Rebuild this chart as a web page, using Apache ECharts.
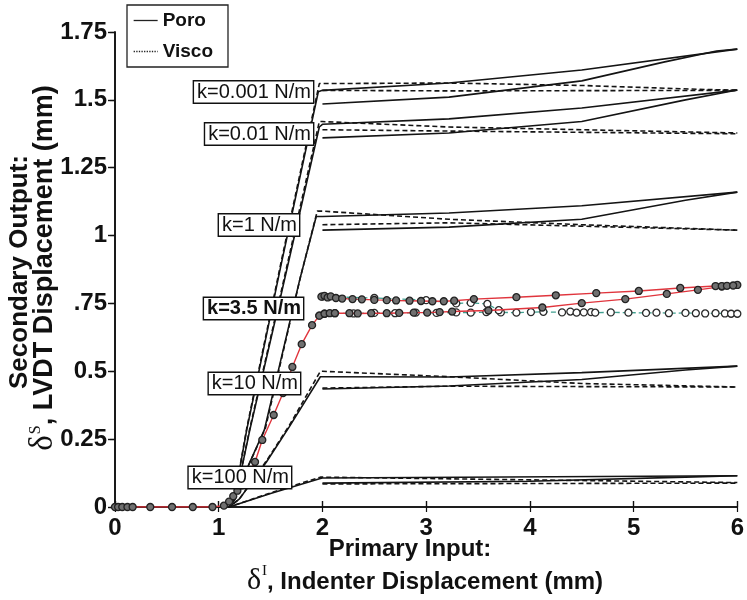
<!DOCTYPE html>
<html>
<head>
<meta charset="utf-8">
<script src="https://cdn.jsdelivr.net/npm/echarts@6/dist/echarts.min.js"></script>
<style>html,body{margin:0;padding:0;background:#fff}#c{width:747px;height:600px}</style>
</head>
<body>
<div id="c"></div>
<script>
// ---------- axis ticks ----------
const xTicks = [0, 1, 2, 3, 4, 5, 6];
const yTickLabels = ['0', '0.25', '0.5', '.75', '1', '1.25', '1.5', '1.75'];

// ---------- model curves [x (mm), y (mm)] ----------
// k = 0.001 N/m
const k0001PoroUp = [[0,0],[1.1,0],[1.15,0.03],[1.27,0.284],[1.6,0.89],[1.96,1.53],[2,1.535],[3.22,1.562],[4.5,1.61],[6,1.687]];
const k0001PoroLo = [[2,1.485],[3.22,1.51],[4.5,1.57],[5.3,1.64],[5.8,1.68],[6,1.687]];
const k0001ViscoUp = [[0,0],[1.1,0],[1.15,0.03],[1.27,0.29],[1.6,0.9],[1.97,1.56],[2,1.56],[3.22,1.562],[4.5,1.553],[5.7,1.538],[6,1.536]];
const k0001ViscoLo = [[2,1.535],[3.22,1.533],[6,1.535]];
// k = 0.01 N/m
const k001PoroUp = [[0,0],[1.1,0],[1.16,0.03],[1.3,0.284],[1.6,0.78],[1.97,1.40],[2,1.41],[3.22,1.43],[4.5,1.47],[6,1.536]];
const k001PoroLo = [[2,1.36],[3.22,1.378],[4.5,1.42],[5.5,1.5],[6,1.536]];
const k001ViscoUp = [[0,0],[1.1,0],[1.16,0.03],[1.3,0.29],[1.6,0.79],[1.97,1.42],[2,1.42],[3.22,1.40],[4.5,1.39],[6,1.378]];
const k001ViscoLo = [[2,1.39],[3.22,1.385],[6,1.375]];
// k = 1 N/m
const k1PoroUp = [[0,0],[1.1,0],[1.2,0.08],[1.44,0.284],[1.78,0.836],[1.94,1.07],[2,1.07],[3.22,1.083],[4.5,1.11],[6,1.16]];
const k1PoroLo = [[2,1.02],[3.22,1.031],[4.5,1.06],[5.5,1.13],[6,1.16]];
const k1ViscoUp = [[0,0],[1.1,0],[1.2,0.08],[1.45,0.29],[1.79,0.85],[1.95,1.09],[2,1.09],[3.22,1.06],[4.5,1.04],[6,1.02]];
const k1ViscoLo = [[2,1.04],[3.22,1.047],[6,1.02]];
// k = 10 N/m
const k10PoroUp = [[0,0],[1.1,0],[1.2,0.03],[1.46,0.166],[1.68,0.295],[1.98,0.48],[2,0.48],[3.22,0.479],[4.5,0.495],[6,0.519]];
const k10PoroLo = [[2,0.435],[3.22,0.446],[4.5,0.47],[5.5,0.505],[6,0.519]];
const k10ViscoUp = [[0,0],[1.1,0],[1.2,0.03],[1.46,0.17],[1.68,0.30],[1.98,0.50],[2,0.50],[3.22,0.48],[4.5,0.455],[6,0.442]];
const k10ViscoLo = [[2,0.438],[3.22,0.445],[6,0.442]];
// k = 100 N/m
const k100PoroUp = [[0,0],[1.1,0],[1.5,0.05],[1.98,0.105],[2,0.107],[6,0.115]];
const k100PoroLo = [[2,0.088],[4,0.095],[5.5,0.11],[6,0.115]];
const k100ViscoUp = [[0,0],[1.1,0],[1.5,0.052],[1.98,0.11],[2,0.11],[4,0.1],[6,0.09]];
const k100ViscoLo = [[2,0.085],[6,0.088]];

// ---------- k = 3.5 N/m experimental data ----------
const expRedLoad = [[0,0],[0.03,0],[0.07,0],[0.12,0],[0.17,0],[0.34,0],[0.55,0],[0.75,0],[0.94,0],[1.05,0.005],[1.1,0.02],[1.14,0.04],[1.18,0.06],[1.22,0.08],[1.35,0.166],[1.42,0.247],[1.53,0.339],[1.62,0.42],[1.71,0.516],[1.8,0.6],[1.9,0.67],[1.97,0.705],[2.02,0.712],[2.07,0.714],[2.12,0.714],[2.26,0.714],[2.34,0.713],[2.47,0.714],[2.62,0.714],[2.74,0.715],[2.88,0.716],[3.01,0.716],[3.13,0.718],[3.25,0.72],[3.6,0.724],[4.12,0.735],[4.5,0.751],[4.92,0.766],[5.32,0.785],[5.62,0.8],[5.85,0.812],[6,0.818]];
const expRedHold = [[1.99,0.775],[2.02,0.778],[2.05,0.772],[2.08,0.776],[2.13,0.77],[2.19,0.768],[2.29,0.766],[2.38,0.765],[2.5,0.763],[2.62,0.762],[2.71,0.761],[2.84,0.76],[2.95,0.759],[3.06,0.758],[3.17,0.758],[3.27,0.76],[3.46,0.766],[3.87,0.773],[4.25,0.78],[4.64,0.788],[5.05,0.796],[5.45,0.807],[5.79,0.814],[5.85,0.814],[5.9,0.815],[5.96,0.816]];
const expTealLo = [[1.97,0.705],[2.02,0.712],[2.12,0.714],[2.3,0.713],[2.5,0.715],[2.7,0.714],[2.9,0.716],[3.1,0.715],[3.29,0.717],[3.43,0.716],[3.58,0.718],[3.72,0.717],[3.87,0.716],[4.01,0.718],[4.13,0.719],[4.31,0.717],[4.39,0.72],[4.45,0.716],[4.52,0.717],[4.59,0.718],[4.63,0.716],[4.78,0.717],[4.95,0.716],[5.12,0.715],[5.22,0.716],[5.34,0.714],[5.5,0.715],[5.6,0.714],[5.69,0.713],[5.79,0.714],[5.88,0.713],[5.94,0.712],[6,0.712]];
const expTealUp = [[2,0.775],[2.5,0.77],[3.0,0.762],[3.29,0.75],[3.43,0.752],[3.59,0.748],[3.7,0.725]];

// ---------- annotation labels ----------
const kLabels = ['k=0.001 N/m', 'k=0.01 N/m', 'k=1 N/m', 'k=3.5 N/m', 'k=10 N/m', 'k=100 N/m'];

const FONT = "'Liberation Sans', Arial, Helvetica, sans-serif";
const chart = echarts.init(document.getElementById('c'), null, {renderer: 'canvas'});

function poro(data) {
  return {type: 'line', name: 'Poro', data: data, symbol: 'none', showSymbol: false, color: '#141414',
    lineStyle: {color: '#141414', width: 1.6, type: 'solid'}, z: 3, animation: false};
}
function visco(data) {
  return {type: 'line', name: 'Visco', data: data, symbol: 'none', showSymbol: false, color: '#141414',
    lineStyle: {color: '#141414', width: 1.6, type: [5, 3]}, z: 3, animation: false};
}

const series = [
  poro(k0001PoroUp), poro(k0001PoroLo), visco(k0001ViscoUp), visco(k0001ViscoLo),
  poro(k001PoroUp), poro(k001PoroLo), visco(k001ViscoUp), visco(k001ViscoLo),
  poro(k1PoroUp), poro(k1PoroLo), visco(k1ViscoUp), visco(k1ViscoLo),
  poro(k10PoroUp), poro(k10PoroLo), visco(k10ViscoUp), visco(k10ViscoLo),
  poro(k100PoroUp), poro(k100PoroLo), visco(k100ViscoUp), visco(k100ViscoLo),
  {type: 'line', name: 'exp teal lo', data: expTealLo, symbol: 'circle', symbolSize: 7, color: '#3f9f8f',
    lineStyle: {color: '#3f9f8f', width: 1.3, type: [5, 3]},
    itemStyle: {color: '#ffffff', borderColor: '#2a2a2a', borderWidth: 1.3}, z: 4, animation: false},
  {type: 'line', name: 'exp teal up', data: expTealUp, symbol: 'circle', symbolSize: 7, color: '#3f9f8f',
    lineStyle: {color: '#3f9f8f', width: 1.3, type: [5, 3]},
    itemStyle: {color: '#ffffff', borderColor: '#2a2a2a', borderWidth: 1.3}, z: 4, animation: false},
  {type: 'line', name: 'exp red load', data: expRedLoad, symbol: 'circle', symbolSize: 7, color: '#e0353d',
    lineStyle: {color: '#e0353d', width: 1.4},
    itemStyle: {color: '#707070', borderColor: '#222222', borderWidth: 1.3}, z: 5, animation: false},
  {type: 'line', name: 'exp red hold', data: expRedHold, symbol: 'circle', symbolSize: 7, color: '#e0353d',
    lineStyle: {color: '#e0353d', width: 1.4},
    itemStyle: {color: '#707070', borderColor: '#222222', borderWidth: 1.3}, z: 5, animation: false}
];

const axisLine = {show: true, lineStyle: {color: '#111', width: 1.6}};

const labelPos = [
  {x: 313, y: 92, bold: false},
  {x: 313, y: 134, bold: false},
  {x: 299, y: 225, bold: false},
  {x: 303, y: 308.5, bold: true},
  {x: 300, y: 383.5, bold: false},
  {x: 291, y: 477.5, bold: false}
];
const graphics = kLabels.map((t, i) => ({
  type: 'text', x: labelPos[i].x, y: labelPos[i].y, z: 50,
  style: {text: t, font: (labelPos[i].bold ? 'bold ' : '') + '20px ' + FONT, fill: '#111',
    align: 'right', verticalAlign: 'middle', backgroundColor: '#fff',
    borderColor: '#111', borderWidth: 1.4, padding: [1, 2, 0, 3]}
}));
graphics.push({
  type: 'text', x: 410, y: 549, z: 50,
  style: {text: 'Primary Input:', font: 'bold 24px ' + FONT, fill: '#111', align: 'center', verticalAlign: 'middle'}
});
graphics.push({
  type: 'text', x: 425, y: 580, z: 50,
  style: {
    text: '{d|δ}{s|I}{t|, Indenter Displacement (mm)}', align: 'center', verticalAlign: 'middle',
    rich: {
      d: {font: '30px "Liberation Serif", "DejaVu Serif", serif', fill: '#111', lineHeight: 32, verticalAlign: 'bottom'},
      s: {font: '15px "Liberation Serif", serif', fill: '#111', lineHeight: 32, verticalAlign: 'top', padding: [0, 0, 14, 1]},
      t: {font: 'bold 24px ' + FONT, fill: '#111', lineHeight: 32, verticalAlign: 'bottom', padding: [0, 0, 2, 0]}
    }
  }
});
graphics.push({
  type: 'text', x: 20, y: 272, rotation: Math.PI / 2, z: 50,
  style: {text: 'Secondary Output:', font: 'bold 26px ' + FONT, fill: '#111', align: 'center', verticalAlign: 'middle'}
});
graphics.push({
  type: 'text', x: 44, y: 268, rotation: Math.PI / 2, z: 50,
  style: {
    text: '{d|δ}{s|S}{t|, LVDT Displacement (mm)}', align: 'center', verticalAlign: 'middle',
    rich: {
      d: {font: '33px "Liberation Serif", "DejaVu Serif", serif', fill: '#111', lineHeight: 32, verticalAlign: 'bottom'},
      s: {font: '16px "Liberation Serif", serif', fill: '#111', lineHeight: 32, verticalAlign: 'top', padding: [0, 0, 14, 1]},
      t: {font: 'bold 27px ' + FONT, fill: '#111', lineHeight: 32, verticalAlign: 'bottom', padding: [0, 0, 2, 0]}
    }
  }
});

chart.setOption({
  animation: false,
  backgroundColor: '#ffffff',
  grid: {left: 115, right: 8, top: 32, bottom: 93, containLabel: false},
  legend: {
    show: true, orient: 'vertical', left: 127, top: 5, z: 60,
    data: [{name: 'Poro'}, {name: 'Visco', lineStyle: {type: 'dotted'}}],
    backgroundColor: '#fff', borderColor: '#222', borderWidth: 1.3,
    padding: [6, 15, 6, 6], itemGap: 12, itemWidth: 24, itemHeight: 14,
    itemStyle: {color: 'transparent', borderColor: 'transparent', borderWidth: 0, opacity: 0},
    lineStyle: {width: 1.3, color: '#222'},
    selectedMode: false,
    textStyle: {fontFamily: FONT, fontWeight: 'bold', fontSize: 19, color: '#111', lineHeight: 19}
  },
  xAxis: [
    {type: 'value', position: 'bottom', min: 0, max: 6, interval: 1,
      axisLine: axisLine, splitLine: {show: false},
      axisTick: {show: true, inside: true, length: 6, lineStyle: {color: '#111', width: 1.4}},
      axisLabel: {show: true, margin: 9, fontFamily: FONT, fontWeight: 'bold', fontSize: 24, color: '#111',
        formatter: v => (xTicks.indexOf(v) >= 0 ? String(v) : '')}},
    {type: 'value', position: 'top', min: 0, max: 6, interval: 1,
      axisLine: axisLine, splitLine: {show: false},
      axisTick: {show: true, inside: true, length: 5, lineStyle: {color: '#111', width: 1.2}},
      axisLabel: {show: false}}
  ],
  yAxis: [
    {type: 'value', position: 'left', min: 0, max: 1.75, interval: 0.25,
      axisLine: axisLine, splitLine: {show: false},
      axisTick: {show: true, inside: false, length: 7, lineStyle: {color: '#111', width: 1.4}},
      axisLabel: {show: true, margin: 8, fontFamily: FONT, fontWeight: 'bold', fontSize: 24, color: '#111',
        formatter: v => yTickLabels[Math.round(v / 0.25)]}},
    {type: 'value', position: 'right', min: 0, max: 1.75, interval: 0.25,
      axisLine: axisLine, splitLine: {show: false},
      axisTick: {show: true, inside: true, length: 5, lineStyle: {color: '#111', width: 1.2}},
      axisLabel: {show: false}}
  ],
  series: series,
  graphic: graphics
});
</script>
</body>
</html>
